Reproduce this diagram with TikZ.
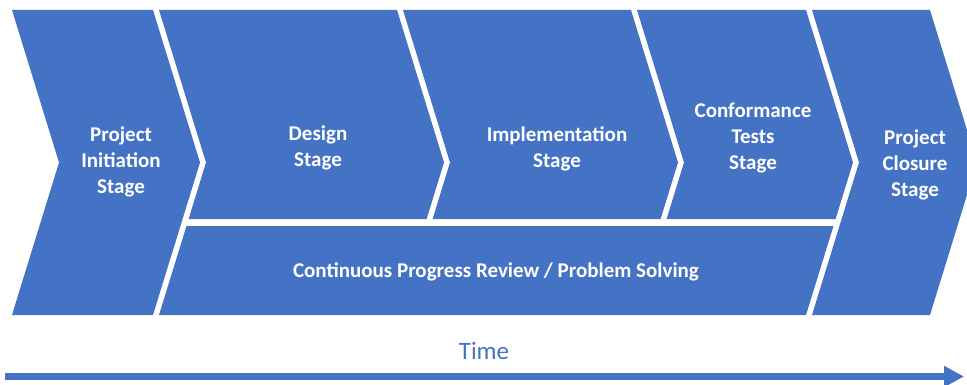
\documentclass[tikz,border=0pt]{standalone}
\usepackage{fontspec}
\setmainfont{Carlito}
\usetikzlibrary{arrows.meta}
\definecolor{stageblue}{HTML}{4472C4}
\tikzset{
  stagefill/.style={fill=stageblue},
  stagetext/.style={text=white, align=center, font=\bfseries\fontsize{21}{26}\selectfont, inner sep=0pt},
  timetext/.style={text=stageblue, font=\fontsize{25}{30}\selectfont, inner sep=0pt},
  timearrow/.style={draw=stageblue, line width=7pt, -{Triangle[width=20pt,length=20pt]}}
}
\begin{document}
\begin{tikzpicture}[x=1pt,y=-1pt]
\useasboundingbox (0,0) rectangle (967,385);
% stage shapes
\fill[stagefill] (12,10) -- (153,10) -- (200,162.5) -- (153,315) -- (12,315) -- (59,162.5) -- cycle;
\fill[stagefill] (159,10) -- (397,10) -- (444,162.5) -- (426.6,219) -- (188.6,219) -- (206,162.5) -- cycle;
\fill[stagefill] (403,10) -- (631,10) -- (678,162.5) -- (660.6,219) -- (432.6,219) -- (450,162.5) -- cycle;
\fill[stagefill] (637,10) -- (806,10) -- (853,162.5) -- (835.6,219) -- (666.6,219) -- (684,162.5) -- cycle;
\fill[stagefill] (812,10) -- (930,10) -- (977,162.5) -- (930,315) -- (812,315) -- (859,162.5) -- cycle;
\fill[stagefill] (186.5,226) -- (833.5,226) -- (806,315) -- (159,315) -- cycle;
% labels
\node[stagetext] (init) at (121,162) {Project\\Initiation\\Stage};
\node[stagetext] (design) at (318,148) {Design\\Stage};
\node[stagetext] (impl) at (557,149) {Implementation\\Stage};
\node[stagetext] (conf) at (753,138) {Conformance\\Tests\\Stage};
\node[stagetext] (close) at (915,165) {Project\\Closure\\Stage};
\node[stagetext] (review) at (496,272) {Continuous Progress Review / Problem Solving};
% time axis
\node[timetext, anchor=base] (time) at (484,359) {Time};
\coordinate (ts) at (5,376.5);
\coordinate (te) at (964,376.5);
\draw[timearrow] (ts) -- (te);
\end{tikzpicture}
\end{document}
